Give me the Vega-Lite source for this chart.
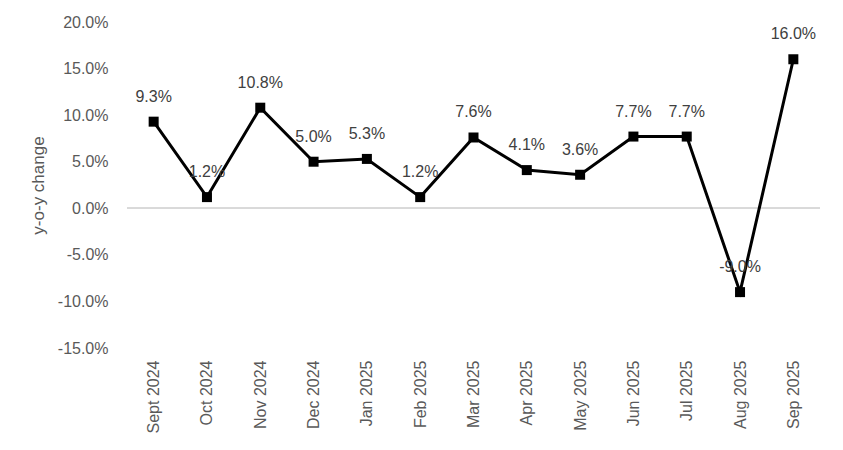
{
  "$schema": "https://vega.github.io/schema/vega-lite/v6.json",
  "width": 693,
  "height": 326,
  "autosize": {"type": "none"},
  "padding": {"left": 127, "top": 22, "right": 23, "bottom": 102},
  "background": "white",
  "config": {
    "view": {"stroke": null},
    "font": "Liberation Sans",
    "axis": {"labelFont": "Liberation Sans", "titleFont": "Liberation Sans", "labelColor": "#595959", "titleColor": "#595959", "labelFontSize": 16, "titleFontSize": 16, "titleFontWeight": "normal", "grid": false, "domain": false, "ticks": false}
  },
  "data": {
    "values": [
      {"month": "Sept 2024", "yoy": 0.093},
      {"month": "Oct 2024", "yoy": 0.012},
      {"month": "Nov 2024", "yoy": 0.108},
      {"month": "Dec 2024", "yoy": 0.050},
      {"month": "Jan 2025", "yoy": 0.053},
      {"month": "Feb 2025", "yoy": 0.012},
      {"month": "Mar 2025", "yoy": 0.076},
      {"month": "Apr 2025", "yoy": 0.041},
      {"month": "May 2025", "yoy": 0.036},
      {"month": "Jun 2025", "yoy": 0.077},
      {"month": "Jul 2025", "yoy": 0.077},
      {"month": "Aug 2025", "yoy": -0.090},
      {"month": "Sep 2025", "yoy": 0.160}
    ]
  },
  "transform": [
    {"calculate": "replace(format(datum.yoy, '.1%'), '\u2212', '-')", "as": "label"}
  ],
  "encoding": {
    "x": {"field": "month", "type": "ordinal", "sort": null, "scale": {"type": "point", "padding": 0.5},
      "axis": {"title": null, "labelAngle": -90, "labelPadding": 12, "labelAlign": "right", "labelBaseline": "middle"}},
    "y": {"field": "yoy", "type": "quantitative", "scale": {"domain": [-0.15, 0.2], "nice": false},
      "axis": {"title": "y-o-y change", "titleFontSize": 17, "titleFont": "Liberation Sans", "titleFontWeight": "normal", "titleColor": "#595959",
        "labelExpr": "replace(format(datum.value, '.1%'), '\u2212', '-')", "values": [-0.15, -0.1, -0.05, 0, 0.05, 0.1, 0.15, 0.2], "labelPadding": 19, "titlePadding": 10}}
  },
  "layer": [
    {
      "mark": {"type": "rule", "color": "#d9d9d9", "strokeWidth": 1.5},
      "encoding": {"x": null, "y": {"datum": 0, "type": "quantitative"}}
    },
    {
      "mark": {"type": "line", "color": "black", "strokeWidth": 3}
    },
    {
      "mark": {"type": "square", "color": "black", "size": 100, "opacity": 1, "filled": true}
    },
    {
      "mark": {"type": "text", "dy": -25, "fontSize": 16, "color": "#404040", "font": "Liberation Sans"},
      "encoding": {"text": {"field": "label", "type": "nominal"}}
    }
  ]
}
